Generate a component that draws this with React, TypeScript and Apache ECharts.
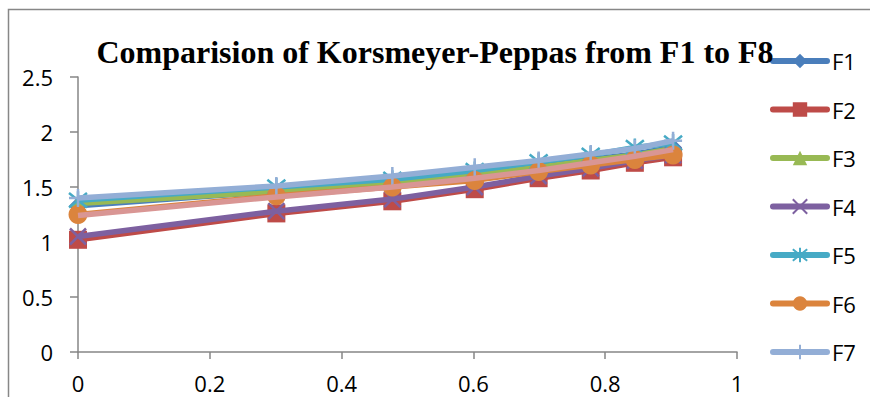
import React, { useEffect, useRef } from "react";
import * as echarts from "echarts";

const xValues = [0, 0.301, 0.477, 0.602, 0.699, 0.778, 0.845, 0.903];
const seriesNames = ["F1", "F2", "F3", "F4", "F5", "F6", "F7", "F8"];
const legendNames = ["F1", "F2", "F3", "F4", "F5", "F6", "F7"];
const f1 = [1.33, 1.46, 1.55, 1.62, 1.69, 1.75, 1.8, 1.86];
const f2 = [1.02, 1.26, 1.37, 1.48, 1.58, 1.65, 1.72, 1.77];
const f3 = [1.35, 1.46, 1.54, 1.61, 1.68, 1.74, 1.79, 1.85];
const f4 = [1.05, 1.28, 1.39, 1.5, 1.6, 1.67, 1.74, 1.79];
const f5 = [1.38, 1.5, 1.57, 1.65, 1.73, 1.79, 1.86, 1.9];
const f6 = [1.25, 1.42, 1.5, 1.56, 1.64, 1.7, 1.75, 1.79];
const f7 = [1.4, 1.51, 1.6, 1.68, 1.74, 1.8, 1.85, 1.92];
const f8 = [1.24, 1.41, 1.5, 1.58, 1.65, 1.72, 1.78, 1.84];
const seriesValues = [f1, f2, f3, f4, f5, f6, f7, f8];
const xTicks = [0, 0.2, 0.4, 0.6, 0.8, 1];
const yTicks = [0, 0.5, 1, 1.5, 2, 2.5];

const colors = ["#4A7EBB", "#BE4B48", "#98B954", "#7D60A0", "#46AAC5", "#DB843D", "#93AED6", "#D99694"];
const symbols = [
  "diamond",
  "rect",
  "triangle",
  "path://M0,0L10,10M10,0L0,10",
  "path://M5,0L5,10M1,1L9,9M9,1L1,9",
  "circle",
  "path://M5,0L5,10M0,5L10,5",
  "none",
];
const symbolSizes = [18, 18, 17, 16, 18, 19, 18, 0];
const strokeSymbols = [false, false, false, true, true, false, true, false];

export default function App() {
  const ref = useRef<HTMLDivElement>(null);
  useEffect(() => {
    if (!ref.current) return;
    const chart = echarts.init(ref.current, null, { renderer: "svg" });
    const font = "'Open Sans', sans-serif";
    chart.setOption({
      animation: false,
      backgroundColor: "#ffffff",
      title: {
        text: "Comparision of Korsmeyer-Peppas from F1 to F8",
        left: "center",
        top: 31,
        textStyle: {
          fontFamily: "'Liberation Serif', 'Times New Roman', serif",
          fontWeight: "bold",
          fontSize: 32,
          color: "#000",
        },
      },
      graphic: [
        {
          type: "rect",
          shape: { x: 8.5, y: 9.5, width: 1000, height: 1000 },
          style: { fill: "none", stroke: "#878787", lineWidth: 1.5 },
          silent: true,
        },
      ],
      legend: {
        orient: "vertical",
        left: 770,
        top: 50,
        height: 600,
        padding: 0,
        itemWidth: 54,
        itemHeight: 18,
        itemGap: 26.5,
        data: legendNames,
        lineStyle: { width: 6, cap: "round" },
        textStyle: { fontFamily: font, fontSize: 22, color: "#000" },
      },
      grid: { left: 78, top: 77, right: 133, bottom: 45, containLabel: false },
      xAxis: {
        type: "value",
        min: xTicks[0],
        max: xTicks[xTicks.length - 1],
        interval: 0.2,
        splitLine: { show: false },
        axisLine: { lineStyle: { color: "#868686", width: 1.5 } },
        axisTick: { length: 7, lineStyle: { color: "#868686", width: 1.5 } },
        axisLabel: { fontFamily: font, fontSize: 22, lineHeight: 18, color: "#000", margin: 22 },
      },
      yAxis: {
        type: "value",
        min: yTicks[0],
        max: yTicks[yTicks.length - 1],
        interval: 0.5,
        splitLine: { show: false },
        axisLine: { show: true, lineStyle: { color: "#868686", width: 1.5 } },
        axisTick: { show: true, length: 8, lineStyle: { color: "#868686", width: 1.5 } },
        axisLabel: { fontFamily: font, fontSize: 22, color: "#000", margin: 25 },
      },
      series: seriesNames.map((name, i) => ({
        name,
        type: "line",
        data: xValues.map((x, j) => [x, seriesValues[i][j]]),
        symbol: symbols[i],
        symbolSize: symbolSizes[i],
        showSymbol: symbols[i] !== "none",
        color: colors[i],
        lineStyle: { color: colors[i], width: 5.5 },
        itemStyle: strokeSymbols[i]
          ? { color: colors[i], borderColor: colors[i], borderWidth: 2.5 }
          : { color: colors[i], borderWidth: 0 },
        emphasis: { disabled: true },
        z: 2 + i,
      })),
    });
    return () => chart.dispose();
  }, []);
  return (
    <div
      ref={ref}
      style={{ position: "fixed", left: 0, top: 0, width: 870, height: 397 }}
    />
  );
}
